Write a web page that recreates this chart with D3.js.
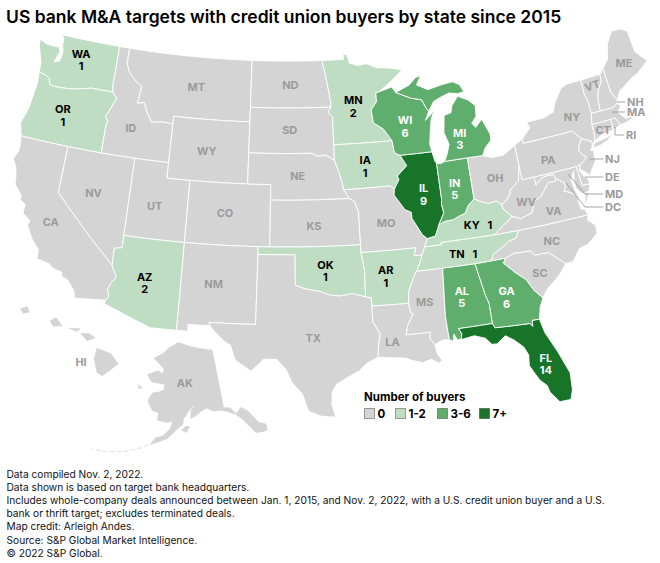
<!DOCTYPE html>
<html>
<head>
<meta charset="utf-8">
<script src="https://cdn.jsdelivr.net/npm/d3@7"></script>
<style>
  body { margin: 0; background: #fff; }
  text { font-family: Inter, Roboto, sans-serif; }
</style>
</head>
<body>
<svg id="chart" width="660" height="563"></svg>
<script>
const title = 'US bank M&A targets with credit union buyers by state since 2015';
const footnotes = [
    'Data compiled Nov. 2, 2022.',
    'Data shown is based on target bank headquarters.',
    'Includes whole-company deals announced between Jan. 1, 2015, and Nov. 2, 2022, with a U.S. credit union buyer and a U.S.',
    'bank or thrift target; excludes terminated deals.',
    'Map credit: Arleigh Andes.',
    'Source: S&P Global Market Intelligence.',
    '\u00a9 2022 S&P Global.'
];

// Deals per state, every state not listed here is 0
const buyerStates = ['WA', 'OR', 'AZ', 'MN', 'IA', 'OK', 'AR', 'KY', 'TN', 'WI', 'MI', 'IN', 'IL', 'AL', 'GA', 'FL'];
const buyerCounts = [1, 1, 2, 2, 1, 1, 1, 1, 1, 6, 3, 5, 9, 5, 6, 14];

const legendLabels = ['0', '1-2', '3-6', '7+'];
const legendBreaks = [1, 3, 7];
const legendColors = ['#d4d4d4', '#bfddc3', '#5fae6d', '#177428'];

// Shared borders as lon/lat polylines, so neighbouring states always meet
const arcs = {
    coastWA: [[-122.76,49],[-122.5,48.75],[-122.5,48.4],[-122.3,47.9],[-122.4,47.3],[-122.9,47.15],[-122.6,47.9],[-122.75,48.15],[-123.2,48.15],[-124,48.17],[-124.72,48.38],[-124.63,47.9],[-124.3,47.3],[-124.1,46.9],[-124.05,46.27]],
    coastOR: [[-124.05,46.27],[-123.95,45.5],[-124.07,44.6],[-124.15,43.9],[-124.4,43.2],[-124.55,42.84],[-124.21,42]],
    coastCA: [[-124.21,42],[-124.1,41.4],[-124.1,41],[-124.4,40.44],[-124,40],[-123.8,39.4],[-123.7,38.9],[-123,38.3],[-122.95,38],[-122.5,37.8],[-122.5,37.2],[-122,36.95],[-121.8,36.8],[-121.95,36.55],[-121.3,35.7],[-120.65,35.15],[-120.6,34.55],[-119.6,34.4],[-119.2,34.15],[-118.5,34.03],[-118.4,33.75],[-117.9,33.6],[-117.3,33],[-117.12,32.53]],
    usCanWA: [[-122.76,49],[-117.03,49]],
    WA_ID: [[-117.03,49],[-117.04,46.42],[-116.92,46]],
    WA_OR: [[-124.05,46.27],[-123.4,46.2],[-123,46.05],[-122.8,45.65],[-122.2,45.6],[-121.2,45.65],[-120.5,45.72],[-119.3,45.93],[-118.98,46],[-116.92,46]],
    ID_N: [[-117.03,49],[-116.05,49]],
    ID_MT: [[-116.05,49],[-116.05,48],[-115.7,47.45],[-114.95,46.93],[-114.35,46.65],[-114.5,45.55],[-113.9,45.65],[-113.45,44.95],[-113,44.45],[-112.2,44.55],[-111.5,44.55],[-111.05,44.47]],
    ID_WY: [[-111.05,44.47],[-111.05,42]],
    ID_UT: [[-111.05,42],[-114.04,42]],
    ID_NV: [[-114.04,42],[-117.03,42]],
    OR_ID: [[-117.03,42],[-117.03,43.83],[-116.93,44.1],[-117.22,44.36],[-117,44.7],[-116.67,45.32],[-116.46,45.6],[-116.92,46]],
    OR_NV: [[-117.03,42],[-120,42]],
    OR_CA: [[-120,42],[-124.21,42]],
    NV_CA: [[-120,42],[-120,39],[-114.63,35]],
    CA_AZ: [[-114.63,35],[-114.15,34.27],[-114.5,33.9],[-114.7,33.4],[-114.52,33],[-114.72,32.72]],
    mexCA: [[-114.72,32.72],[-117.12,32.53]],
    UT_NV: [[-114.04,37],[-114.04,42]],
    NV_AZ: [[-114.63,35],[-114.65,36.1],[-114.04,36.2],[-114.04,37]],
    WY_UT: [[-111.05,42],[-111.05,41],[-109.05,41]],
    CO_UT: [[-109.05,41],[-109.05,37]],
    UT_AZ: [[-109.05,37],[-114.04,37]],
    AZ_NM: [[-109.05,37],[-109.05,31.33]],
    mexAZ: [[-109.05,31.33],[-111.07,31.33],[-114.81,32.5],[-114.72,32.72]],
    MT_N: [[-116.05,49],[-104.05,49]],
    MT_ND: [[-104.05,49],[-104.05,45.94]],
    MT_SD: [[-104.05,45.94],[-104.05,45]],
    MT_WY: [[-104.05,45],[-111.05,45],[-111.05,44.47]],
    WY_CO: [[-109.05,41],[-104.05,41]],
    WY_NE: [[-104.05,41],[-104.05,43]],
    WY_SD: [[-104.05,43],[-104.05,45]],
    NE_CO: [[-104.05,41],[-102.05,41],[-102.05,40]],
    KS_CO: [[-102.05,40],[-102.05,37]],
    CO_OK: [[-102.05,37],[-103,37]],
    CO_NM: [[-103,37],[-109.05,37]],
    NM_OK: [[-103,37],[-103,36.5]],
    NM_TX: [[-103,36.5],[-103.05,32],[-106.62,32],[-106.53,31.78]],
    mexNM: [[-106.53,31.78],[-108.21,31.78],[-108.21,31.33],[-109.05,31.33]],
    ND_N: [[-104.05,49],[-97.23,49]],
    ND_MN: [[-97.23,49],[-96.85,47.6],[-96.56,46.3],[-96.56,45.94]],
    ND_SD: [[-96.56,45.94],[-104.05,45.94]],
    SD_MN: [[-96.56,45.94],[-96.85,45.6],[-96.45,45.3],[-96.45,43.5]],
    SD_IA: [[-96.45,43.5],[-96.45,42.5]],
    SD_NE: [[-96.45,42.5],[-97.2,42.85],[-97.9,42.8],[-98.5,43],[-104.05,43]],
    IA_NE: [[-96.45,42.5],[-96.1,41.7],[-95.85,41],[-95.77,40.58]],
    NE_MO: [[-95.77,40.58],[-95.31,40]],
    NE_KS: [[-95.31,40],[-102.05,40]],
    KS_MO: [[-95.31,40],[-94.9,39.8],[-94.61,39.1],[-94.62,37]],
    KS_OK: [[-94.62,37],[-102.05,37]],
    OK_MO: [[-94.62,37],[-94.62,36.5]],
    OK_AR: [[-94.62,36.5],[-94.43,35.4],[-94.48,33.64]],
    OK_TX: [[-94.48,33.64],[-95.5,33.9],[-96.5,33.78],[-97.2,33.85],[-98.1,34.13],[-99.2,34.3],[-100,34.56],[-100,36.5],[-103,36.5]],
    AR_TX: [[-94.48,33.64],[-94.04,33.55],[-94.04,33.02]],
    LA_TX: [[-94.04,33.02],[-94.04,32],[-93.55,31.2],[-93.75,30.4],[-93.84,29.7]],
    gulfTX: [[-93.84,29.7],[-94.7,29.35],[-95.3,28.9],[-96.4,28.4],[-97,28.1],[-97.35,27.6],[-97.4,26.8],[-97.15,25.96]],
    mexTX: [[-97.15,25.96],[-98.2,26.05],[-99.1,26.4],[-99.5,27.5],[-100.3,28.3],[-100.7,29.1],[-101.4,29.77],[-102.4,29.77],[-102.85,29.35],[-103.3,28.98],[-104.5,29.65],[-104.9,30.6],[-105.4,30.85],[-106.2,31.47],[-106.53,31.78]],
    MN_CAN: [[-97.23,49],[-95.15,49],[-95.15,49.38],[-94.8,49.3],[-94.6,48.75],[-93.8,48.55],[-92.95,48.62],[-92,48.3],[-90.8,48.2],[-89.6,48]],
    MN_SUP: [[-89.6,48],[-90.8,47.3],[-92.01,46.71]],
    MN_WI: [[-92.01,46.71],[-92.29,46.66],[-92.29,46.1],[-92.85,45.6],[-92.75,44.75],[-91.9,44.3],[-91.22,43.5]],
    MN_IA: [[-91.22,43.5],[-96.45,43.5]],
    WI_IA: [[-91.22,43.5],[-91.1,42.7],[-90.64,42.51]],
    IA_IL: [[-90.64,42.51],[-90.15,41.8],[-91.05,41.2],[-90.95,40.95],[-91.42,40.38]],
    IA_MO: [[-91.42,40.38],[-91.73,40.61],[-95.77,40.58]],
    MO_IL: [[-91.42,40.38],[-91.5,40],[-90.7,39],[-90.2,38.8],[-90.2,38.4],[-89.5,37.3],[-89.13,37]],
    KY_MO: [[-89.13,37],[-89.42,36.5]],
    TN_MO: [[-89.42,36.5],[-89.7,36]],
    AR_MO: [[-89.7,36],[-90.37,36],[-90.15,36.5],[-94.62,36.5]],
    AR_TN: [[-89.7,36],[-89.95,35.5],[-90.3,35]],
    AR_MS: [[-90.3,35],[-90.6,34.6],[-91.1,33.7],[-91.17,33]],
    AR_LA: [[-91.17,33],[-94.04,33.02]],
    LA_MS: [[-91.17,33],[-91.1,32.4],[-90.9,32.3],[-91.4,31.6],[-91.6,31],[-89.73,31],[-89.85,30.65],[-89.53,30.18]],
    gulfLA: [[-93.84,29.7],[-92.6,29.58],[-91.8,29.5],[-91.3,29.3],[-90.6,29.1],[-89.9,29.25],[-89.4,28.95],[-89.1,29.1],[-89.4,29.5],[-89.53,30.18]],
    MS_TN: [[-90.3,35],[-88.2,35]],
    MS_AL: [[-88.2,35],[-88.47,31.9],[-88.4,30.37]],
    gulfMS: [[-89.53,30.18],[-88.9,30.4],[-88.4,30.37]],
    AL_TN: [[-88.2,35],[-85.6,34.98]],
    AL_GA: [[-85.6,34.98],[-85.18,32.87],[-85,32.3],[-85,31]],
    AL_FL: [[-85,31],[-87.6,31],[-87.4,30.65],[-87.52,30.28]],
    gulfAL: [[-88.4,30.37],[-88.1,30.25],[-88,30.7],[-87.8,30.3],[-87.52,30.28]],
    GA_FL: [[-85,31],[-84.86,30.7],[-82.2,30.57],[-82.05,30.36],[-82,30.75],[-81.45,30.72]],
    gulfFL: [[-87.52,30.28],[-86.5,30.4],[-85.7,30.13],[-85.3,29.68],[-84.9,29.65],[-84.2,30.08],[-83.6,29.7],[-83,29.15],[-82.75,28.6],[-82.85,27.9],[-82.6,27.4],[-82.3,26.85],[-81.85,26.4],[-81.75,25.95],[-81.2,25.2],[-80.4,25.2]],
    atlFL: [[-81.45,30.72],[-81.25,29.8],[-80.6,28.4],[-80.05,26.9],[-80.15,25.8],[-80.4,25.2]],
    GA_TN: [[-85.6,34.98],[-84.32,34.99]],
    GA_NC: [[-84.32,34.99],[-83.11,35]],
    GA_SC: [[-83.11,35],[-83.35,34.7],[-82.55,33.95],[-81.85,33.4],[-81.4,32.6],[-80.85,32.03]],
    coastGA: [[-81.45,30.72],[-81.2,31.5],[-80.85,32.03]],
    coastSC: [[-80.85,32.03],[-80.4,32.5],[-79.6,33],[-79.15,33.3],[-78.55,33.86]],
    SC_NC: [[-83.11,35],[-82.4,35.2],[-81.04,35.15],[-80.8,34.82],[-79.68,34.8],[-78.55,33.86]],
    coastNC: [[-78.55,33.86],[-77.95,33.87],[-77.2,34.6],[-76.5,34.7],[-75.55,35.25],[-75.5,35.8],[-76,36.2],[-75.87,36.55]],
    NC_VA: [[-75.87,36.55],[-81.68,36.59]],
    NC_TN: [[-81.68,36.59],[-82,36.12],[-82.6,36.04],[-83.1,35.77],[-84,35.4],[-84.32,34.99]],
    TN_VA: [[-81.68,36.59],[-83.68,36.6]],
    TN_KY: [[-83.68,36.6],[-86.5,36.65],[-88.05,36.65],[-88.06,36.5],[-89.42,36.5]],
    KY_VA: [[-83.68,36.6],[-81.97,37.54]],
    KY_WV: [[-81.97,37.54],[-82.6,38.17],[-82.6,38.42]],
    KY_OH: [[-82.6,38.42],[-83,38.72],[-83.7,38.65],[-84.3,38.85],[-84.82,39.1]],
    KY_IN: [[-84.82,39.1],[-85.4,38.73],[-85.75,38.27],[-86.3,38.15],[-86.8,37.98],[-87.5,37.95],[-88.03,37.8]],
    KY_IL: [[-88.03,37.8],[-88.45,37.1],[-89.13,37]],
    lakeIL: [[-87.8,42.49],[-87.65,41.85],[-87.53,41.71]],
    IL_IN: [[-87.53,41.71],[-87.53,39.35],[-87.6,39.1],[-87.5,38.5],[-88.03,37.8]],
    WI_IL: [[-87.8,42.49],[-90.64,42.51]],
    lakeIN: [[-87.53,41.71],[-87.2,41.65],[-86.82,41.76]],
    IN_MI: [[-86.82,41.76],[-84.8,41.76]],
    IN_OH: [[-84.8,41.76],[-84.82,39.1]],
    OH_MI: [[-84.8,41.76],[-83.45,41.73]],
    lakeOH: [[-83.45,41.73],[-82.7,41.5],[-81.7,41.5],[-80.52,41.98]],
    OH_PA: [[-80.52,41.98],[-80.52,40.64]],
    OH_WV: [[-80.52,40.64],[-80.85,39.7],[-81.7,39.2],[-81.75,39],[-82.2,38.6],[-82.6,38.42]],
    superiorWI: [[-92.01,46.71],[-91.2,46.87],[-90.75,46.95],[-90.42,46.57]],
    WI_MI: [[-90.42,46.57],[-89.1,46.1],[-88.1,45.9],[-87.8,45.35],[-87.6,45.1]],
    lakeWI: [[-87.6,45.1],[-88,44.55],[-87.4,44.9],[-87.05,45.25],[-87.5,44.5],[-87.7,43.8],[-87.9,43],[-87.8,42.49]],
    upShore: [[-90.42,46.57],[-89.1,46.95],[-88.4,47.38],[-87.9,47.47],[-88.4,46.9],[-87.4,46.5],[-86.2,46.67],[-85,46.77],[-84.4,46.5],[-84.1,46],[-84.7,45.95],[-85.5,46.08],[-86.3,45.9],[-87,45.7],[-87.6,45.1]],
    miLP: [[-86.82,41.76],[-86.5,42.2],[-86.2,42.8],[-86.5,43.6],[-86.25,44.7],[-85.6,44.8],[-85.4,45.25],[-84.75,45.78],[-83.9,45.45],[-83.3,45],[-83.4,44.3],[-83.9,43.9],[-83.6,43.6],[-82.95,44.05],[-82.45,43],[-82.5,42.6],[-83.1,42.2],[-83.45,41.73]],
    PA_WV: [[-80.52,40.64],[-80.52,39.72],[-79.48,39.72]],
    MD_WV: [[-79.48,39.72],[-79.48,39.2],[-78.85,39.55],[-78.4,39.62],[-77.8,39.6],[-77.72,39.32]],
    WV_VA: [[-77.72,39.32],[-77.83,39.13],[-78.4,39.17],[-79.3,38.4],[-79.9,38.2],[-80.3,37.5],[-81.3,37.3],[-81.97,37.54]],
    MD_VA: [[-77.72,39.32],[-77.12,38.93],[-77.04,38.7],[-77.3,38.4],[-76.9,38.25],[-76.25,37.9]],
    coastVA: [[-76.25,37.9],[-76.35,37.6],[-76.3,37],[-76,36.92],[-75.87,36.55]],
    lakePA: [[-80.52,41.98],[-79.76,42.27]],
    PA_NY: [[-79.76,42.27],[-79.76,42],[-75.35,42],[-74.7,41.36]],
    PA_NJ: [[-74.7,41.36],[-75.1,41],[-75.2,40.68],[-75.05,40.4],[-74.72,40.15],[-75.1,39.9],[-75.42,39.8]],
    PA_DE: [[-75.42,39.8],[-75.79,39.72]],
    PA_MD: [[-75.79,39.72],[-79.48,39.72]],
    DE_MD: [[-75.79,39.72],[-75.7,38.46],[-75.05,38.45]],
    coastMD: [[-75.05,38.45],[-75.25,38.03],[-75.65,37.95],[-75.9,37.95],[-76.3,38.4],[-76.25,38.9],[-76.1,39.5],[-76.5,39],[-76.4,38.3],[-76.25,37.9]],
    coastDE: [[-75.42,39.8],[-75.6,39.45],[-75.4,39.05],[-75.1,38.78],[-75.05,38.45]],
    NY_NJ: [[-74.7,41.36],[-73.9,41],[-74,40.7]],
    coastNJ: [[-74,40.7],[-74.25,40.48],[-74,40.45],[-74.1,39.75],[-74.4,39.45],[-74.9,38.95],[-75.1,39.2],[-75.55,39.5],[-75.42,39.8]],
    lakeNY: [[-79.76,42.27],[-78.9,42.85],[-79.05,43.27],[-77.5,43.27],[-76.5,43.5],[-76.2,44],[-75.3,44.85],[-74.7,45]],
    NY_N: [[-74.7,45],[-73.34,45.01]],
    NY_VT: [[-73.34,45.01],[-73.4,44],[-73.25,43.6],[-73.27,42.75]],
    NY_MA: [[-73.27,42.75],[-73.5,42.05]],
    NY_CT: [[-73.5,42.05],[-73.55,41.3],[-73.65,41]],
    coastNY: [[-73.65,41],[-73.9,40.8],[-74,40.7]],
    VT_N: [[-73.34,45.01],[-71.5,45.01]],
    VT_NH: [[-71.5,45.01],[-71.6,44.5],[-72.05,44.1],[-72.35,43.5],[-72.45,42.73]],
    VT_MA: [[-73.27,42.75],[-72.45,42.73]],
    NH_MA: [[-72.45,42.73],[-71.3,42.7],[-70.82,42.87]],
    coastNH: [[-70.82,42.87],[-70.7,43.07]],
    NH_ME: [[-70.7,43.07],[-71.05,43.7],[-71.08,45.3]],
    NH_N: [[-71.08,45.3],[-71.5,45.01]],
    maineOut: [[-71.08,45.3],[-70.4,45.8],[-70,46.7],[-69.2,47.45],[-68.3,47.35],[-67.8,47.07],[-67.8,45.7],[-67.45,45.3],[-67,44.85],[-68.2,44.3],[-69,44.1],[-69.8,43.75],[-70.25,43.6],[-70.7,43.07]],
    coastMA: [[-70.82,42.87],[-70.6,42.65],[-71,42.3],[-70.65,41.95],[-70.5,41.78],[-70,41.78],[-70.05,42.05],[-70.25,42.07],[-69.95,41.9],[-69.98,41.65],[-70.65,41.53],[-71.15,41.5]],
    MA_RI: [[-71.15,41.5],[-71.38,42.02],[-71.8,42.02]],
    MA_CT: [[-71.8,42.02],[-73.5,42.05]],
    coastRI: [[-71.15,41.5],[-71.4,41.45],[-71.86,41.32]],
    RI_CT: [[-71.86,41.32],[-71.8,42.02]],
    coastCT: [[-71.86,41.32],[-72.9,41.25],[-73.65,41]]
};

// Each state is a list of rings, a ring is a list of arc names walked in order
const stateRings = {
    WA: [['usCanWA','WA_ID','WA_OR','coastWA']],
    OR: [['WA_OR','OR_ID','OR_NV','OR_CA','coastOR']],
    CA: [['OR_CA','NV_CA','CA_AZ','mexCA','coastCA']],
    ID: [['ID_N','ID_MT','ID_WY','ID_UT','ID_NV','OR_ID','WA_ID']],
    NV: [['OR_NV','ID_NV','UT_NV','NV_AZ','NV_CA']],
    UT: [['ID_UT','WY_UT','CO_UT','UT_AZ','UT_NV']],
    AZ: [['UT_AZ','AZ_NM','mexAZ','CA_AZ','NV_AZ']],
    MT: [['MT_N','MT_ND','MT_SD','MT_WY','ID_MT']],
    WY: [['MT_WY','ID_WY','WY_UT','WY_CO','WY_NE','WY_SD']],
    CO: [['WY_CO','NE_CO','KS_CO','CO_OK','CO_NM','CO_UT']],
    NM: [['CO_NM','NM_OK','NM_TX','mexNM','AZ_NM']],
    ND: [['ND_N','ND_MN','ND_SD','MT_ND']],
    SD: [['ND_SD','SD_MN','SD_IA','SD_NE','WY_SD','MT_SD']],
    NE: [['SD_NE','IA_NE','NE_MO','NE_KS','NE_CO','WY_NE']],
    KS: [['NE_KS','KS_MO','KS_OK','KS_CO']],
    OK: [['KS_OK','OK_MO','OK_AR','OK_TX','NM_OK','CO_OK']],
    TX: [['OK_TX','AR_TX','LA_TX','gulfTX','mexTX','NM_TX']],
    MN: [['MN_CAN','MN_SUP','MN_WI','MN_IA','SD_MN','ND_MN']],
    IA: [['MN_IA','WI_IA','IA_IL','IA_MO','IA_NE','SD_IA']],
    MO: [['IA_MO','MO_IL','KY_MO','TN_MO','AR_MO','OK_MO','KS_MO','NE_MO']],
    AR: [['AR_MO','AR_TN','AR_MS','AR_LA','AR_TX','OK_AR']],
    LA: [['AR_LA','LA_MS','gulfLA','LA_TX']],
    MS: [['AR_MS','MS_TN','MS_AL','gulfMS','LA_MS']],
    AL: [['MS_AL','AL_TN','AL_GA','AL_FL','gulfAL']],
    FL: [['AL_FL','gulfFL','atlFL','GA_FL']],
    GA: [['AL_GA','GA_TN','GA_NC','GA_SC','coastGA','GA_FL']],
    SC: [['GA_SC','coastSC','SC_NC']],
    NC: [['SC_NC','coastNC','NC_VA','NC_TN','GA_NC']],
    TN: [['TN_VA','TN_KY','TN_MO','AR_TN','MS_TN','AL_TN','GA_TN','NC_TN']],
    KY: [['TN_KY','KY_VA','KY_WV','KY_OH','KY_IN','KY_IL','KY_MO']],
    IL: [['lakeIL','IL_IN','KY_IL','MO_IL','IA_IL','WI_IL']],
    IN: [['lakeIN','IN_MI','IN_OH','KY_IN','IL_IN']],
    OH: [['OH_MI','lakeOH','OH_PA','OH_WV','KY_OH','IN_OH']],
    WI: [['MN_WI','superiorWI','WI_MI','lakeWI','WI_IL','WI_IA']],
    MI: [['WI_MI','upShore'], ['miLP','OH_MI','IN_MI']],
    WV: [['OH_WV','PA_WV','MD_WV','WV_VA','KY_WV']],
    VA: [['WV_VA','MD_VA','coastVA','NC_VA','TN_VA','KY_VA']],
    PA: [['lakePA','PA_NY','PA_NJ','PA_DE','PA_MD','PA_WV','OH_PA']],
    MD: [['PA_MD','DE_MD','coastMD','MD_VA','MD_WV']],
    DE: [['PA_DE','DE_MD','coastDE']],
    NJ: [['PA_NJ','NY_NJ','coastNJ']],
    NY: [['lakeNY','NY_N','NY_VT','NY_MA','NY_CT','coastNY','NY_NJ','PA_NY']],
    VT: [['VT_N','VT_NH','VT_MA','NY_VT']],
    NH: [['VT_NH','NH_MA','coastNH','NH_ME','NH_N']],
    ME: [['NH_ME','maineOut']],
    MA: [['NY_MA','VT_MA','NH_MA','coastMA','MA_RI','MA_CT']],
    RI: [['MA_RI','coastRI','RI_CT']],
    CT: [['MA_CT','NY_CT','coastCT','RI_CT']]
};

// Islands that do not share a border with anything
const extraRings = {
    NY: [[[-74,40.6],[-73.7,40.88],[-72.6,40.98],[-72,41.1],[-72.5,40.82],[-73.3,40.63]]],
    VA: [[[-75.95,37.15],[-75.65,37.9],[-75.3,38],[-75.6,37.5]]]
};

const alaskaRings = [
    [[-156.5,71.35],[-152,70.85],[-148,70.4],[-141,69.65],[-141,60.3],[-139,60.1],[-137.5,58.95],[-135.5,59.75],[-133.8,58.8],[-131.8,56.6],[-130,55.95],[-130.3,55],[-131.5,55],[-133.5,55.2],[-135,56.8],[-136.4,58.1],[-138,58.95],[-139.8,59.55],[-142,60],[-144.5,60.1],[-146.5,60.7],[-148.5,60.2],[-149.8,59.7],[-151.8,59.2],[-151.5,60.7],[-150,61.2],[-151.5,61],[-153,59.9],[-154,59.2],[-154.2,58.3],[-156.3,57.3],[-158.5,56],[-161,55.3],[-163.2,54.75],[-162,55.9],[-160,56.3],[-158,57.5],[-157.3,58.7],[-159,58.5],[-162,58.7],[-162,59.9],[-164,60.1],[-165.4,61],[-166,61.7],[-164.8,62.9],[-163,63.1],[-161,63.6],[-161,64.5],[-163,64.55],[-166,64.6],[-168,65.6],[-164,66.5],[-162,66.1],[-162,67],[-164,67.6],[-166.7,68.35],[-163,69.4],[-161,70.3]],
    [[-154.6,57.4],[-153.3,58],[-152.2,57.9],[-153.2,57]],
    [[-170.5,63.7],[-168.8,63.3],[-170,63.2]]
];
const aleutianLine = [[-163.6,54.6],[-166.5,53.7],[-170,52.8],[-174,52.1],[-178,51.7]];
const hawaiiRings = [
    [[-155.9,20.25],[-155.2,19.98],[-154.85,19.5],[-155.65,18.95],[-155.9,19.1],[-156.05,19.75]],
    [[-156.7,20.95],[-156.3,20.95],[-156,20.75],[-156.4,20.6]],
    [[-157.3,21.2],[-156.75,21.17],[-156.9,21.05]],
    [[-158.25,21.55],[-157.95,21.7],[-157.65,21.3],[-158.1,21.3]],
    [[-159.75,22.1],[-159.4,22.22],[-159.3,21.95],[-159.6,21.9]]
];

// Where each state's text sits, lon/lat
const labelSpots = {
    WA: [-120.37,47.42], OR: [-120.95,43.65], CA: [-120.05,36.77], NV: [-117.03,39.13], ID: [-114.73,43.63], MT: [-109.2,46.77],
    WY: [-107.76,42.73], UT: [-111.77,38.87], CO: [-105.85,38.8], ND: [-100.33,47.17], SD: [-100.4,44.23], NE: [-99.71,41.3],
    KS: [-98.4,38.1], OK: [-97.57,35.17], TX: [-98.65,30.9], NM: [-106.43,34.2], AZ: [-111.85,33.9], MN: [-94.51,45.67],
    IA: [-93.8,41.75], MO: [-92.4,38.03], AR: [-92.8,34.6], LA: [-92.7,30.35], MS: [-89.95,32.7], AL: [-87.05,32.75],
    GA: [-83.65,32.25], FL: [-81.7,27.55], SC: [-80.75,33.37], NC: [-79.3,35.2], TN: [-86.46,35.47], KY: [-84.91,37.13],
    VA: [-78.6,37.07], WV: [-80.65,38.03], OH: [-82.8,39.95], IN: [-86.35,39.67], IL: [-89.03,39.6], WI: [-89.95,44.07],
    MI: [-85.25,42.8], PA: [-78.05,40.3], NY: [-75.1,42.65], ME: [-69.2,44.95], VT: [-72.47,44.2], CT: [-72.8,41.27]
};
const sideLabels = ['NH', 'MA', 'RI', 'NJ', 'DE', 'MD', 'DC'];

const svg = d3.select('#chart');

const GRAY_TEXT = '#9b9b9b';
const colorScale = d3.scaleThreshold().domain(legendBreaks).range(legendColors);
const countByState = new Map(buyerStates.map((s, i) => [s, buyerCounts[i]]));
const countOf = s => countByState.get(s) || 0;

const lower48 = d3.geoAlbers().rotate([100.6, 0]).center([0, 38.7]).scale(885).translate([287.5, 220.5]);
const alaska = d3.geoConicEqualArea().parallels([55, 65]).rotate([154, 0]).center([-2, 58.5]).scale(360).translate([177, 423]);
const hawaii = d3.geoConicEqualArea().parallels([8, 18]).rotate([157, 0]).center([0, 20.5]).scale(1219).translate([75, 343]);

// Planar path from a projection, so ring winding does not matter
const pathFor = proj => d3.geoPath(d3.geoTransform({
    point (x, y) {
        const p = proj([x, y]);
        this.stream.point(p[0], p[1]);
    }
}));

// Walk arcs in order, flipping any arc that runs the other way
function buildRing (names) {
    const pts = [];
    names.forEach((name, i) => {
        let line = arcs[name];
        if (!line) console.error('missing arc', name);
        const same = (a, b) => a[0] === b[0] && a[1] === b[1];
        if (i === 0) {
            const next = arcs[names[1]];
            const end = line[line.length - 1];
            if (!same(end, next[0]) && !same(end, next[next.length - 1])) line = line.slice().reverse();
        } else {
            if (!same(line[0], pts[pts.length - 1])) line = line.slice().reverse();
            if (!same(line[0], pts[pts.length - 1])) console.error('broken ring at', name);
        }
        pts.push(...line);
    });
    return pts;
}

// Long straight borders are parallels, so add points before projecting
function densify (ring) {
    const out = [];
    ring.forEach((p, i) => {
        const q = ring[(i + 1) % ring.length];
        const steps = Math.max(Math.ceil(Math.abs(q[0] - p[0])), 1);
        for (let k = 0; k < steps; k++) {
            out.push([p[0] + (q[0] - p[0]) * k / steps, p[1] + (q[1] - p[1]) * k / steps]);
        }
    });
    out.push(out[0]);
    return out;
}

const toFeature = (id, rings) => ({
    type: 'Feature',
    id: id,
    geometry: { type: 'MultiPolygon', coordinates: rings.map(r => [densify(r)]) }
});

const stateFeatures = Object.keys(stateRings).map(id => toFeature(id,
    stateRings[id].map(buildRing).concat(extraRings[id] || [])));

const mapG = svg.append('g').attr('class', 'map');

mapG.selectAll('path.state')
    .data(stateFeatures)
    .enter()
    .append('path')
    .attr('class', 'state')
    .attr('d', pathFor(lower48))
    .attr('fill', d => colorScale(countOf(d.id)))
    .attr('stroke', '#fff')
    .attr('stroke-width', 0.9)
    .attr('stroke-linejoin', 'round');

// Inset islands as plain polygons through their own projection
const insetPoints = (ring, proj) => ring.map(p => proj(p).join(',')).join(' ');

mapG.selectAll('polygon.alaska')
    .data(alaskaRings)
    .enter()
    .append('polygon')
    .attr('class', 'alaska')
    .attr('points', r => insetPoints(r, alaska))
    .attr('fill', legendColors[0])
    .attr('stroke', legendColors[0])
    .attr('stroke-width', 0.6);

mapG.append('path')
    .attr('d', d3.line()(aleutianLine.map(p => alaska(p))))
    .attr('fill', 'none')
    .attr('stroke', '#e4e4e4')
    .attr('stroke-width', 1.2)
    .attr('stroke-dasharray', '5 2');

mapG.selectAll('polygon.hawaii')
    .data(hawaiiRings)
    .enter()
    .append('polygon')
    .attr('class', 'hawaii')
    .attr('points', r => insetPoints(r, hawaii))
    .attr('fill', legendColors[0])
    .attr('stroke', legendColors[0])
    .attr('stroke-width', 0.6);

// State text
const labelG = svg.append('g').attr('class', 'labels')
    .attr('text-anchor', 'middle')
    .attr('font-size', 11)
    .attr('font-weight', 700);

function labelColor (count) {
    if (count === 0) return GRAY_TEXT;
    return count >= 3 ? '#fff' : '#000';
}

Object.keys(labelSpots).forEach(id => {
    const p = lower48(labelSpots[id]);
    const n = countOf(id);
    const fill = labelColor(n);
    if (n === 0) {
        // VT follows the slant of the state in the original
        const t = labelG.append('text').attr('x', p[0]).attr('y', p[1]).attr('fill', fill).text(id);
        if (id === 'VT') t.attr('transform', `rotate(-18 ${p[0]} ${p[1]})`);
    } else if (id === 'KY' || id === 'TN') {
        // These two are too thin for two lines
        labelG.append('text').attr('x', p[0]).attr('y', p[1]).attr('fill', fill)
            .style('white-space', 'pre').text(id + '   ' + n);
    } else {
        labelG.append('text').attr('x', p[0]).attr('y', p[1] - 6).attr('fill', fill).text(id);
        labelG.append('text').attr('x', p[0]).attr('y', p[1] + 6.5).attr('fill', fill).text(n);
    }
});

const akLabel = alaska([-153.5, 64.2]);
const hiLabel = hawaii([-156.7, 19.4]);
labelG.append('text').attr('x', akLabel[0]).attr('y', akLabel[1]).attr('fill', GRAY_TEXT).text('AK');
labelG.append('text').attr('x', hiLabel[0]).attr('y', hiLabel[1]).attr('fill', GRAY_TEXT).text('HI');

// Small north-east states get a label off the coast with a leader line
const sideSpots = [[627, 106], [627, 116], [626, 139], [605, 163], [605, 181], [605, 198], [605, 211]];
const leaders = [
    [[617, 102], [625, 102]],
    [[612, 112], [625, 112]],
    [[615, 127], [615, 135], [624, 135]],
    [[590, 159], [603, 159]],
    [[585, 177], [603, 177]],
    [[568, 174], [585, 194], [603, 194]],
    [[566, 183], [585, 207], [603, 207]]
];
const leaderLine = d3.line();
svg.append('g').selectAll('path')
    .data(leaders)
    .enter()
    .append('path')
    .attr('d', leaderLine)
    .attr('fill', 'none')
    .attr('stroke', '#8f8f8f')
    .attr('stroke-width', 0.8);

svg.append('g').attr('font-size', 11).attr('font-weight', 700).attr('fill', GRAY_TEXT)
    .selectAll('text')
    .data(sideLabels)
    .enter()
    .append('text')
    .attr('x', (d, i) => sideSpots[i][0])
    .attr('y', (d, i) => sideSpots[i][1])
    .text(d => d);

// Title
svg.append('text')
    .attr('x', 6)
    .attr('y', 23)
    .attr('font-size', 17.5)
    .attr('font-weight', 600)
    .attr('fill', '#000')
    .text(title);

// Legend
const legendX = d3.scaleOrdinal().domain(legendLabels).range([364, 395, 437, 479]);
const legend = svg.append('g').attr('class', 'legend');
legend.append('text')
    .attr('x', 364)
    .attr('y', 401)
    .attr('font-size', 11.5)
    .attr('font-weight', 700)
    .text('Number of buyers');

const items = legend.selectAll('g.item')
    .data(legendLabels)
    .enter()
    .append('g')
    .attr('class', 'item')
    .attr('transform', d => `translate(${legendX(d)}, 408)`);

items.append('rect')
    .attr('x', 0.5)
    .attr('y', 0.5)
    .attr('width', 10)
    .attr('height', 10)
    .attr('fill', (d, i) => legendColors[i])
    .attr('stroke', '#000')
    .attr('stroke-opacity', 0.35);

items.append('text')
    .attr('x', 13.5)
    .attr('y', 10)
    .attr('font-size', 11.5)
    .attr('font-weight', 700)
    .text(d => d);

// Footnotes
svg.append('g')
    .attr('font-size', 10.2)
    .attr('fill', '#111')
    .selectAll('text')
    .data(footnotes)
    .enter()
    .append('text')
    .attr('x', 6.5)
    .attr('y', (d, i) => 477.5 + i * 13.2)
    .text(d => d);
</script>
</body>
</html>
